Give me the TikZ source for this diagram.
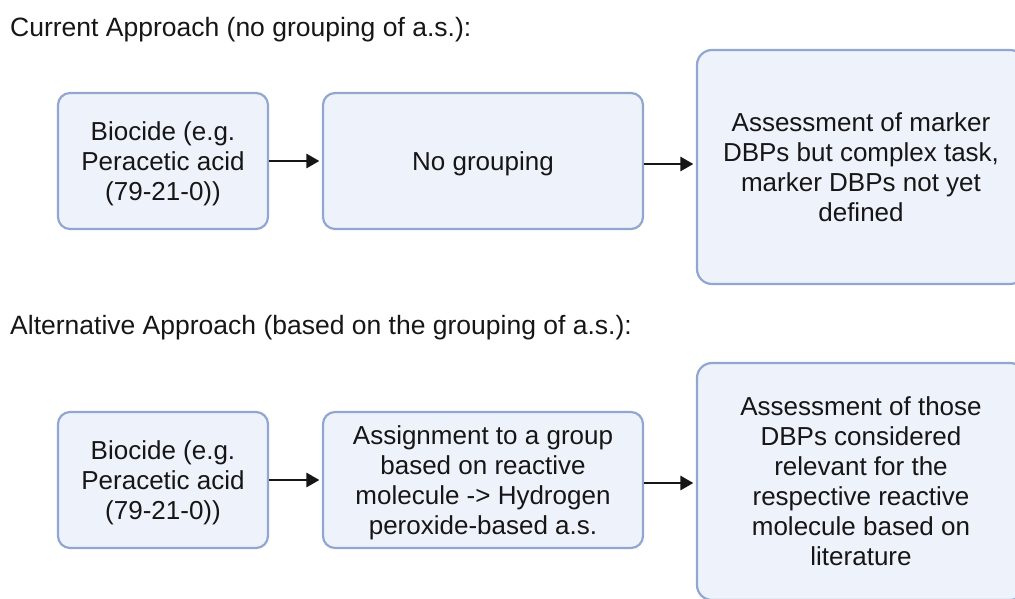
\documentclass[tikz,border=0pt]{standalone}
\usepackage{fontspec}
\setmainfont{Liberation Sans}
\usetikzlibrary{arrows.meta}
\definecolor{boxfill}{RGB}{238,242,250}
\definecolor{boxline}{RGB}{146,166,210}
\definecolor{ink}{RGB}{22,22,22}
\tikzset{
  heading/.style={anchor=base west, inner sep=0pt, text=ink,
    font=\fontsize{26.5}{30}\selectfont},
  stepbox/.style={draw=boxline, fill=boxfill, line width=2.2pt,
    rounded corners=12pt, align=center, text=ink, inner sep=4pt,
    text depth=0pt, font=\fontsize{26}{30}\selectfont},
  flow/.style={draw=ink, line width=2.8pt,
    -{Triangle[length=13pt,width=14pt]}, shorten >=2.5pt}
}
\begin{document}
\begin{tikzpicture}[x=1pt, y=-1pt]
  \useasboundingbox (0,0) rectangle (1015,598);
  \clip (0,0) rectangle (1015,598);

  % first row: current approach
  \node[heading] (head1) at (10,36) {Current Approach (no grouping of a.s.):};
  \node[stepbox, minimum width=210pt, minimum height=136pt] (bio1) at (163,161)
    {Biocide (e.g.\\Peracetic acid\\(79-21-0))};
  \node[stepbox, minimum width=320pt, minimum height=136pt] (nogroup) at (483,161)
    {No grouping};
  \node[stepbox, minimum width=328pt, minimum height=234pt, rounded corners=15pt] (marker) at (861,167)
    {Assessment of marker\\DBPs but complex task,\\marker DBPs not yet\\defined};

  \draw[flow] (bio1.east) -- (bio1.east -| nogroup.west);
  \draw[flow] ([yshift=-3pt]nogroup.east) -- ([yshift=-3pt]nogroup.east -| marker.west);

  % second row: alternative approach
  \node[heading] (head2) at (10,334) {Alternative Approach (based on the grouping of a.s.):};
  \node[stepbox, minimum width=210pt, minimum height=136pt] (bio2) at (163,480)
    {Biocide (e.g.\\Peracetic acid\\(79-21-0))};
  \node[stepbox, minimum width=320pt, minimum height=136pt] (assign) at (483,480)
    {Assignment to a group\\based on reactive\\molecule -> Hydrogen\\peroxide-based a.s.};
  \node[stepbox, minimum width=328pt, minimum height=237pt, rounded corners=15pt] (relevant) at (861,481.5)
    {Assessment of those\\DBPs considered\\relevant for the\\respective reactive\\molecule based on\\literature};

  \draw[flow] (bio2.east) -- (bio2.east -| assign.west);
  \draw[flow] ([yshift=-3pt]assign.east) -- ([yshift=-3pt]assign.east -| relevant.west);
\end{tikzpicture}
\end{document}
